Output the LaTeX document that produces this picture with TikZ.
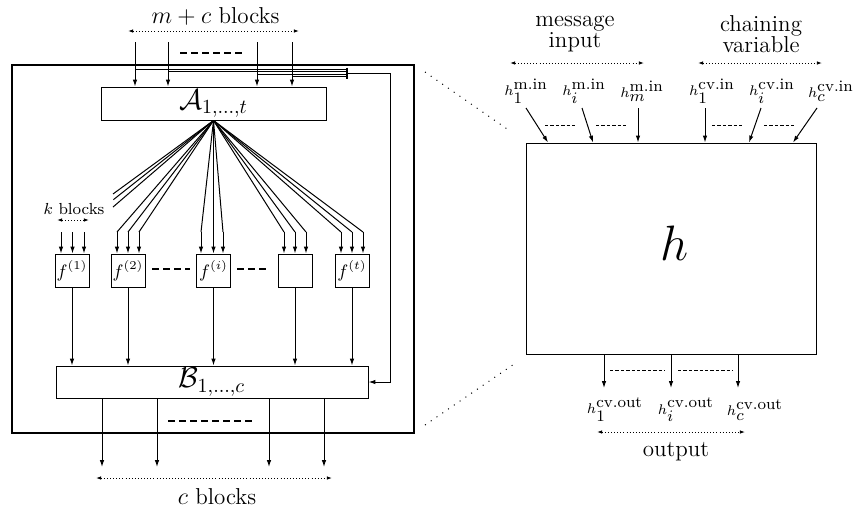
\documentclass[tikz,border=0pt]{standalone}
\usetikzlibrary{arrows.meta,calc}
\begin{document}
\begin{tikzpicture}[x=0.5pt,y=-0.5pt,
  box/.style={draw, line width=0.5pt, inner sep=0pt},
  fbox/.style={box, minimum width=17pt, minimum height=16.5pt, font=\small},
  arr/.style={line width=0.5pt, -{Latex[length=3.4pt,width=2.2pt]}},
  ln/.style={line width=0.5pt},
  dotarr/.style={line width=0.45pt, dash pattern=on 0.45pt off 1.1pt, {Latex[length=2.6pt,width=1.8pt]}-{Latex[length=2.6pt,width=1.8pt]}},
  zoomln/.style={line width=0.5pt, dash pattern=on 0.5pt off 3pt},
  dsh/.style={line width=0.55pt, dash pattern=on 3.3pt off 2.2pt},
  sdsh/.style={line width=0.45pt, dash pattern=on 1.7pt off 1pt},
  lbl/.style={font=\fontsize{11.5}{10.5}\selectfont, align=center, inner sep=0pt},
  hl/.style={font=\scriptsize, inner sep=0pt}]
\useasboundingbox (0,0) rectangle (854,510);

% ---------- left part ----------
\node[box, line width=0.9pt, minimum width=201pt, minimum height=184pt] (outer) at (213,249) {};
\node[box, minimum width=112.5pt, minimum height=16.5pt, font=\Large] (A) at (213.5,103.5) {$\mathcal{A}_{1,\ldots,t}$};
\node[box, minimum width=156pt, minimum height=16pt, font=\Large] (B) at (212,382) {$\mathcal{B}_{1,\ldots,c}$};

\node[fbox] (f1) at (72,270.5) {$f^{(1)}$};
\node[fbox] (f2) at (128,270.5) {$f^{(2)}$};
\node[fbox] (fi) at (213.5,270.5) {$f^{(i)}$};
\node[fbox] (fb) at (295,270.5) {};
\node[fbox] (ft) at (352,270.5) {$f^{(t)}$};

% top label
\node[lbl] (mc) at (215.5,16) {$m+c$ blocks};
\coordinate (mcl) at (128,31); \coordinate (mcr) at (299,31);
\draw[dotarr] (mcl) -- (mcr);

% inputs to A and feedback bus
\coordinate (busend) at (347,73);
\foreach \x/\y [count=\i] in {135/69,168/71,257/74,292/76} {
  \coordinate (in\i) at (\x,42);
  \coordinate (bus\i) at (\x,\y);
  \draw[arr] (in\i) -- (in\i |- A.north);
  \draw[ln] (bus\i) -- (bus\i -| busend);
}
\coordinate (bt) at (347,67.5); \coordinate (bb) at (347,78.5);
\draw[line width=0.7pt] (bt) -- (bb);
\coordinate (fbc) at (390,73);
\draw[arr] (busend) -- (fbc) |- (B.east);
\coordinate (d1a) at (180,53); \coordinate (d1b) at (242,53);
\draw[dsh] (d1a) -- (d1b);

% fan out of A
\coordinate (apex) at (A.south);
\foreach \x [count=\i] in {117,128,139,201,213.5,223,284,295,306,341,352,363} {
  \coordinate (t\i) at (\x,232);
}
\foreach \i in {1,2,3} \draw[ln] (apex) -- (t\i); \foreach \i in {1,2,3} \draw[arr] (t\i) -- (t\i |- f2.north);
\foreach \i in {4,5,6} \draw[ln] (apex) -- (t\i); \foreach \i in {4,5,6} \draw[arr] (t\i) -- (t\i |- fi.north);
\foreach \i in {7,8,9} \draw[ln] (apex) -- (t\i); \foreach \i in {7,8,9} \draw[arr] (t\i) -- (t\i |- fb.north);
\foreach \i in {10,11,12} \draw[ln] (apex) -- (t\i); \foreach \i in {10,11,12} \draw[arr] (t\i) -- (t\i |- ft.north);

% f(1): k blocks, and stubs
\coordinate (k1) at (61,232); \coordinate (k2) at (72.5,232); \coordinate (k3) at (84,232);
\draw[ln] (apex) -- ($(apex)!0.659!(k1)$);
\draw[ln] (apex) -- ($(apex)!0.710!(k2)$);
\draw[ln] (apex) -- ($(apex)!0.776!(k3)$);
\foreach \i in {1,2,3} \draw[arr] (k\i) -- (k\i |- f1.north);
\node[font=\footnotesize, inner sep=0pt] (kb) at (74,209) {$k$ blocks};
\coordinate (kl) at (57,220); \coordinate (kr) at (89,220);
\draw[dotarr] (kl) -- (kr);

% dashes between f boxes
\coordinate (d2a) at (152,269); \coordinate (d2b) at (190,269);
\coordinate (d3a) at (237,269); \coordinate (d3b) at (266,269);
\draw[dsh] (d2a) -- (d2b);
\draw[dsh] (d3a) -- (d3b);

% f outputs to B
\foreach \f in {f1,f2,fi,fb,ft} \draw[arr] (\f.south) -- (\f.south |- B.north);

% B outputs
\foreach \x [count=\i] in {102,157,269,324} {
  \coordinate (o\i) at (\x,467);
  \draw[arr] (o\i |- B.south) -- (o\i);
}
\coordinate (d4a) at (168,421); \coordinate (d4b) at (252,421);
\draw[dsh] (d4a) -- (d4b);
\coordinate (cl) at (96,478); \coordinate (cr) at (332,478);
\draw[dotarr] (cl) -- (cr);
\node[lbl] (cb) at (217,497) {$c$ blocks};

% ---------- right part ----------
\node[box, minimum width=145pt, minimum height=105.5pt] (H) at (671,248.5) {};
\node[font=\Huge, inner sep=0pt] (hname) at (675,243) {$h$};

\coordinate (z1a) at (425,72); \coordinate (z1b) at (510,131);
\coordinate (z2a) at (425,425); \coordinate (z2b) at (517,362);
\draw[zoomln] (z1a) -- (z1b);
\draw[zoomln] (z2a) -- (z2b);

\node[lbl] (msg) at (575,34) {message\\input};
\node[lbl] (chv) at (761,34) {chaining\\variable};
\coordinate (ml) at (510,63); \coordinate (mr) at (644,63);
\coordinate (cvl) at (698,63); \coordinate (cvr) at (822,63);
\draw[dotarr] (ml) -- (mr);
\draw[dotarr] (cvl) -- (cvr);

\node[hl] (hm1) at (526,91) {$h^{\mbox{\footnotesize m.in}}_{\mbox{\footnotesize 1}}$};
\node[hl] (hmi) at (584,91) {$h^{\mbox{\footnotesize m.in}}_{\mbox{\footnotesize $i$}}$};
\node[hl] (hmm) at (642,91) {$h^{\mbox{\footnotesize m.in}}_{\mbox{\footnotesize $m$}}$};
\node[hl] (hc1) at (712,91) {$h^{\mbox{\footnotesize cv.in}}_{\mbox{\footnotesize 1}}$};
\node[hl] (hci) at (772,91) {$h^{\mbox{\footnotesize cv.in}}_{\mbox{\footnotesize $i$}}$};
\node[hl] (hcc) at (831,91) {$h^{\mbox{\footnotesize cv.in}}_{\mbox{\footnotesize $c$}}$};

\foreach \sx/\ex [count=\i] in {526/548,582/593,638/638,705/705,761/749,817/793} {
  \coordinate (s\i) at (\sx,108);
  \coordinate (e\i) at (\ex,143);
  \draw[arr] (s\i) -- (e\i |- H.north);
}
\coordinate (r1a) at (545,125); \coordinate (r1b) at (577,125);
\coordinate (r2a) at (596,125); \coordinate (r2b) at (627,125);
\coordinate (r3a) at (712,125); \coordinate (r3b) at (743,125);
\coordinate (r4a) at (764,125); \coordinate (r4b) at (796,125);
\foreach \i in {1,2,3,4} \draw[sdsh] (r\i a) -- (r\i b);

\foreach \x [count=\i] in {604,671,738} {
  \coordinate (u\i) at (\x,388);
  \draw[arr] (u\i |- H.south) -- (u\i);
}
\coordinate (q1a) at (610,370); \coordinate (q1b) at (665,370);
\coordinate (q2a) at (678,370); \coordinate (q2b) at (733,370);
\draw[sdsh] (q1a) -- (q1b);
\draw[sdsh] (q2a) -- (q2b);

\node[hl] (ho1) at (615,410) {$h^{\mbox{\footnotesize cv.out}}_{\mbox{\footnotesize 1}}$};
\node[hl] (hoi) at (686,410) {$h^{\mbox{\footnotesize cv.out}}_{\mbox{\footnotesize $i$}}$};
\node[hl] (hoc) at (755,410) {$h^{\mbox{\footnotesize cv.out}}_{\mbox{\footnotesize $c$}}$};
\coordinate (ol) at (597,432); \coordinate (or) at (745,432);
\draw[dotarr] (ol) -- (or);
\node[lbl] (out) at (676,452) {output};
\end{tikzpicture}
\end{document}
